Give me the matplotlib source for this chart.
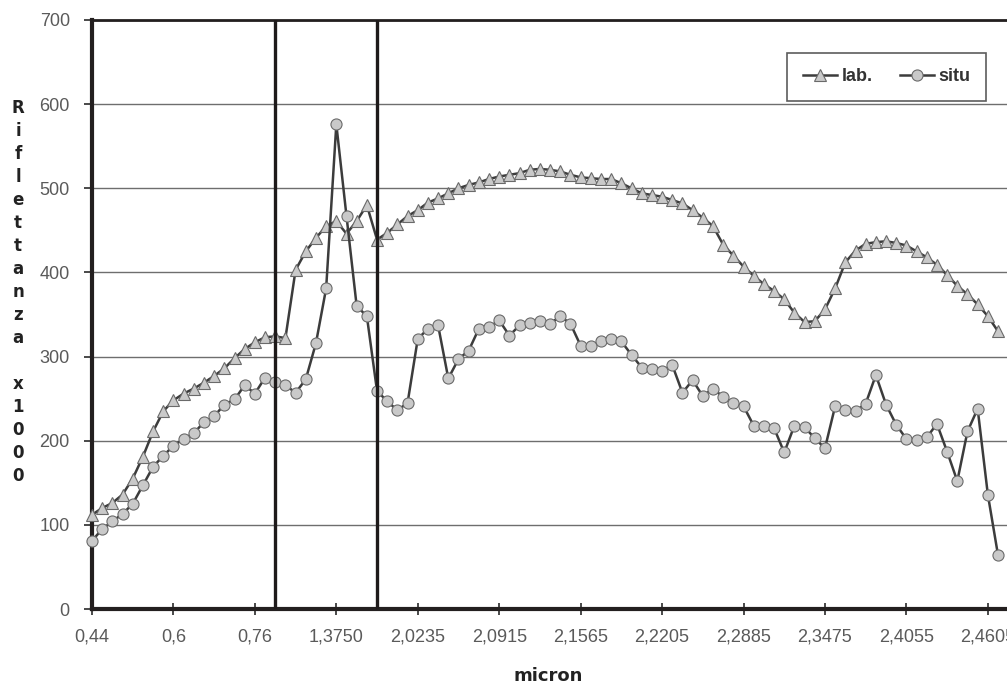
import matplotlib
matplotlib.use("Agg")
import matplotlib.pyplot as plt
import numpy as np

# Reflectance x1000 (one value per wavelength step)
lab = [112, 120, 126, 136, 155, 181, 211, 235, 248, 256,
       262, 269, 277, 286, 298, 309, 317, 323, 324, 322,
       403, 425, 441, 455, 461, 446, 461, 480, 439, 447,
       457, 467, 474, 483, 488, 494, 500, 504, 507, 511,
       514, 516, 518, 522, 523, 522, 520, 516, 513, 512,
       511, 511, 506, 500, 494, 492, 490, 486, 482, 474,
       465, 455, 433, 420, 407, 396, 386, 378, 368, 352,
       341, 342, 356, 381, 412, 426, 434, 436, 437, 435,
       432, 425, 418, 409, 397, 384, 374, 362, 348, 330]

situ = [81, 95, 104, 113, 125, 147, 169, 182, 194, 202,
        209, 222, 229, 243, 249, 266, 256, 275, 270, 266,
        257, 273, 316, 381, 576, 467, 360, 348, 259, 247,
        236, 245, 321, 333, 337, 274, 297, 307, 333, 335,
        343, 325, 337, 340, 342, 339, 348, 339, 313, 312,
        319, 321, 318, 302, 287, 285, 283, 290, 257, 272,
        253, 262, 252, 245, 241, 218, 217, 215, 186, 218,
        216, 203, 191, 241, 236, 235, 244, 278, 243, 219,
        202, 201, 204, 220, 187, 152, 211, 238, 136, 64]

tick_labels = ["0,44", "0,6", "0,76", "1,3750", "2,0235", "2,0915",
               "2,1565", "2,2205", "2,2885", "2,3475", "2,4055", "2,4605"]
tick_step = 8
marker_lines = [18, 28]   # category indices of the two vertical bars

ylabel = "Riflettanza x1000"

x = np.arange(len(lab))

fig = plt.figure(figsize=(10.07, 6.84), dpi=100)
ax = fig.add_axes([92/1007, 75/684, 1 - 92/1007, 589/684])

line_col = "#3c3c3c"
fill_col = "#c9c9c9"

ax.plot(x, lab, color=line_col, lw=1.8, marker="^", ms=9,
        mfc=fill_col, mec="#6a6a6a", mew=0.8, label="lab.", zorder=4,
        clip_on=False)
ax.plot(x, situ, color=line_col, lw=1.8, marker="o", ms=8,
        mfc=fill_col, mec="#6a6a6a", mew=0.8, label="situ", zorder=4,
        clip_on=False)

for m in marker_lines:
    ax.axvline(m, color="#1e1a1a", lw=2.4, zorder=5)

ax.set_xlim(0, (1007 - 92) / 10.18)
ax.set_ylim(0, 700)
ax.set_yticks(np.arange(0, 701, 100))
ax.yaxis.grid(True, color="#6e6e6e", lw=1.0)
ax.set_axisbelow(True)

ax.set_xticks(np.arange(len(tick_labels)) * tick_step)
ax.set_xticklabels(tick_labels)

tick_font = ["Liberation Sans Narrow", "Liberation Sans", "DejaVu Sans"]
for lbl in ax.get_xticklabels() + ax.get_yticklabels():
    lbl.set_family(tick_font)
    lbl.set_fontsize(13)
    lbl.set_color("#5a5a5a")

ax.tick_params(axis="x", direction="inout", length=8, width=1.2,
               color="#2a2a2a", pad=10)
ax.tick_params(axis="y", direction="out", length=6, width=1.2,
               color="#2a2a2a", pad=10)

ax.spines["left"].set_linewidth(3)
ax.spines["left"].set_color("#231f1f")
ax.spines["bottom"].set_linewidth(3)
ax.spines["bottom"].set_color("#231f1f")
ax.spines["top"].set_linewidth(2)
ax.spines["top"].set_color("#231f1f")
ax.spines["right"].set_visible(False)

# stacked vertical y label, one character per line
fig.text(18/1007, 1 - 292/684, "\n".join(ylabel), ha="center", va="center",
         fontsize=12, fontweight="bold", family="DejaVu Sans",
         color="#222222", linespacing=1.36)

fig.text(548/1007, 1 - 676/684, "micron", ha="center", va="center",
         fontsize=13, fontweight="bold", color="#222222")

leg = ax.legend(loc="upper right", bbox_to_anchor=(986/1007, 1 - 53/684),
                bbox_transform=fig.transFigure, ncol=2, frameon=True,
                fancybox=False, edgecolor="#333333",
                prop={"family": ["Liberation Sans", "DejaVu Sans"],
                      "weight": "bold", "size": 13},
                handlelength=1.9, columnspacing=1.5, borderpad=0.85,
                handletextpad=0.25, borderaxespad=0)
leg.get_frame().set_linewidth(1.2)
for t in leg.get_texts():
    t.set_color("#333333")

fig.savefig("out.png", dpi=100)
